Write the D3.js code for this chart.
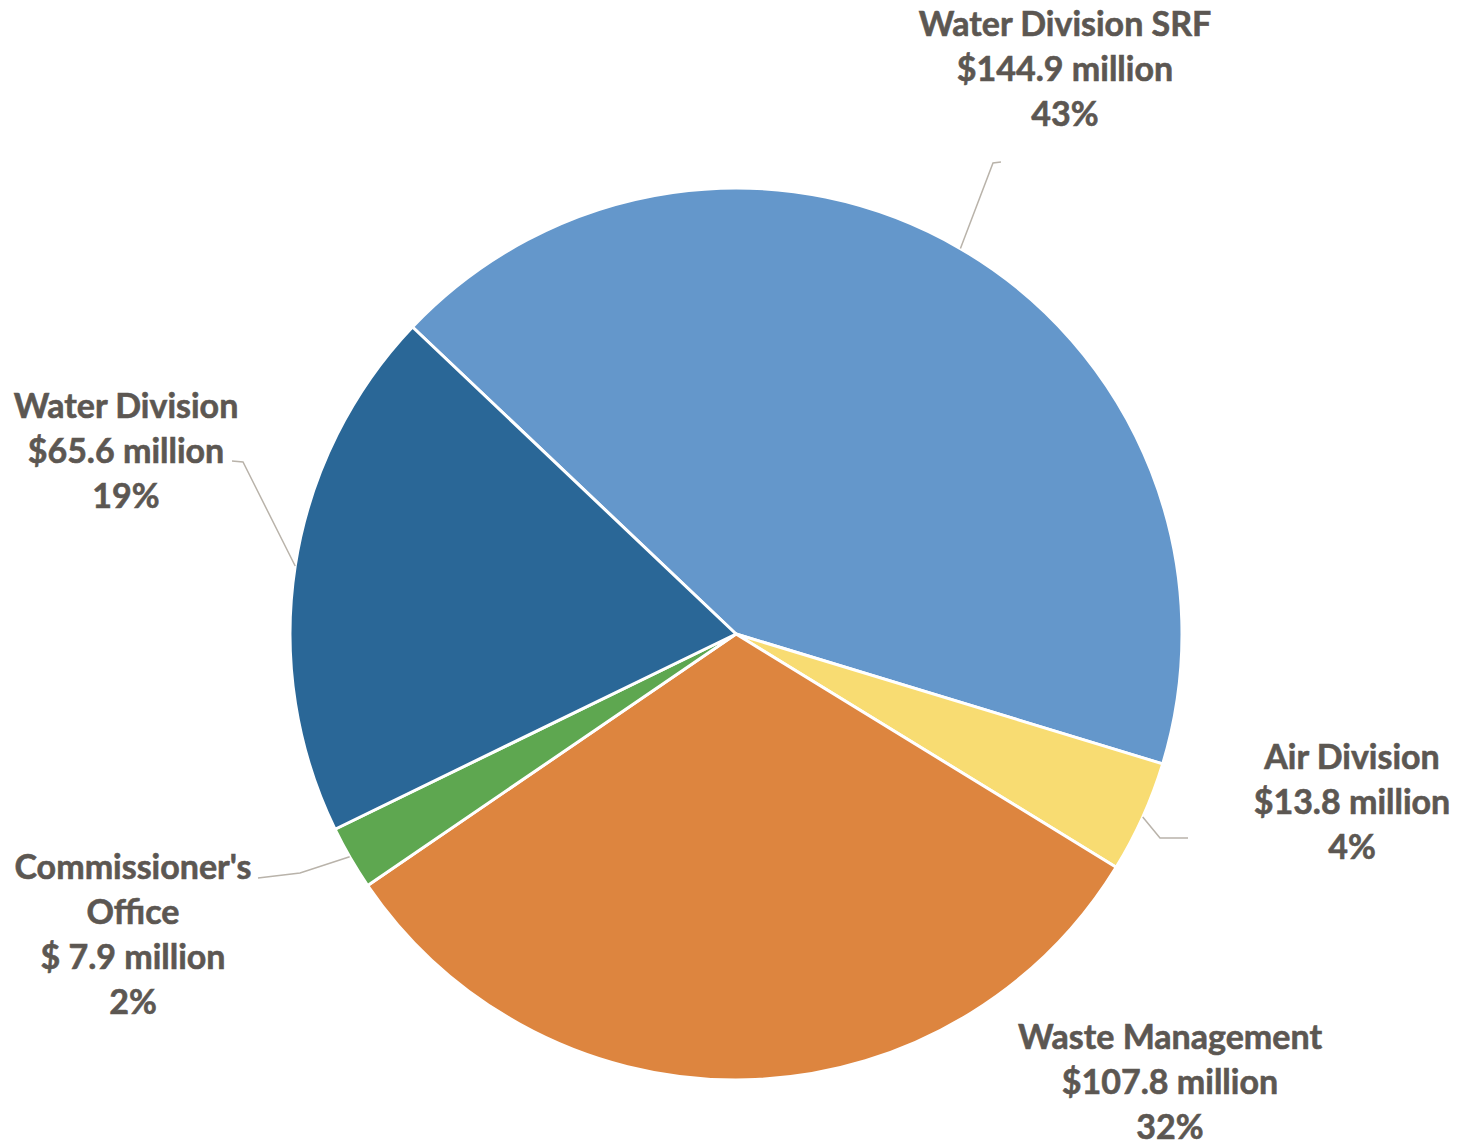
<!DOCTYPE html>
<html><head><meta charset="utf-8">
<script src="https://cdn.jsdelivr.net/npm/d3@7"></script>
<style>body{margin:0;background:#fff}</style>
</head><body>
<svg id="c" width="1458" height="1147"></svg>
<script>
const categories = ["Water Division SRF", "Air Division", "Waste Management", "Commissioner's Office", "Water Division"];
const values = [144.9, 13.8, 107.8, 7.9, 65.6];
const amountLabels = ["$144.9 million", "$13.8 million", "$107.8 million", "$ 7.9 million", "$65.6 million"];
const percentLabels = ["43%", "4%", "32%", "2%", "19%"];
const nameLines = [["Water Division SRF"], ["Air Division"], ["Waste Management"], ["Commissioner's", "Office"], ["Water Division"]];
const colors = ["#6497cb", "#f8dc72", "#dd853f", "#5ea750", "#2a6797"];

const svg = d3.select("#c");
const cx = 736, cy = 634, R = 446;
const g = svg.append("g").attr("transform", `translate(${cx},${cy})`);
const start = -46.5 * Math.PI / 180;
const pie = d3.pie().sort(null).value(d => d).startAngle(start).endAngle(start + 2 * Math.PI);
const arcs = pie(values);
const arc = d3.arc().innerRadius(0).outerRadius(R);

g.selectAll("path.slice").data(arcs).join("path")
  .attr("class", "slice")
  .attr("d", arc)
  .attr("fill", (d, i) => colors[i])
  .attr("stroke", "#fff").attr("stroke-width", 3).attr("stroke-linejoin", "round");

// label placements (center x, first baseline y) and leader elbows
const labelPos = [
  {x: 1065, y: 36, elbow: [993, 163], end: [1001, 162], fa: 0.5},
  {x: 1352, y: 769, elbow: [1160, 838], end: [1188, 838], fa: 0.5},
  {x: 1170, y: 1049, elbow: null},
  {x: 133, y: 879, elbow: [300, 873], end: [258, 878], fa: 0.52},
  {x: 126, y: 418, elbow: [243, 462], end: [232, 461], fa: 0.5}
];

arcs.forEach((a, i) => {
  const p = labelPos[i];
  if (p.elbow) {
    const ang = a.startAngle + (a.endAngle - a.startAngle) * p.fa;
    const sx = cx + Math.sin(ang) * R, sy = cy - Math.cos(ang) * R;
    svg.append("path")
      .attr("d", d3.line()([[sx, sy], p.elbow, p.end]))
      .attr("fill", "none").attr("stroke", "#b9b3aa").attr("stroke-width", 1.5);
  }
  const lines = nameLines[i].concat([amountLabels[i], percentLabels[i]]);
  const t = svg.append("text")
    .attr("text-anchor", "middle")
    .attr("font-family", "Lato, 'Open Sans', sans-serif")
    .attr("font-weight", "bold")
    .attr("font-size", 34)
    .attr("fill", "#5c5752")
    .attr("stroke", "#5c5752").attr("stroke-width", 0.6);
  lines.forEach((ln, k) => {
    t.append("tspan").attr("x", p.x).attr("y", p.y + k * 45).text(ln);
  });
});
</script>
</body></html>
